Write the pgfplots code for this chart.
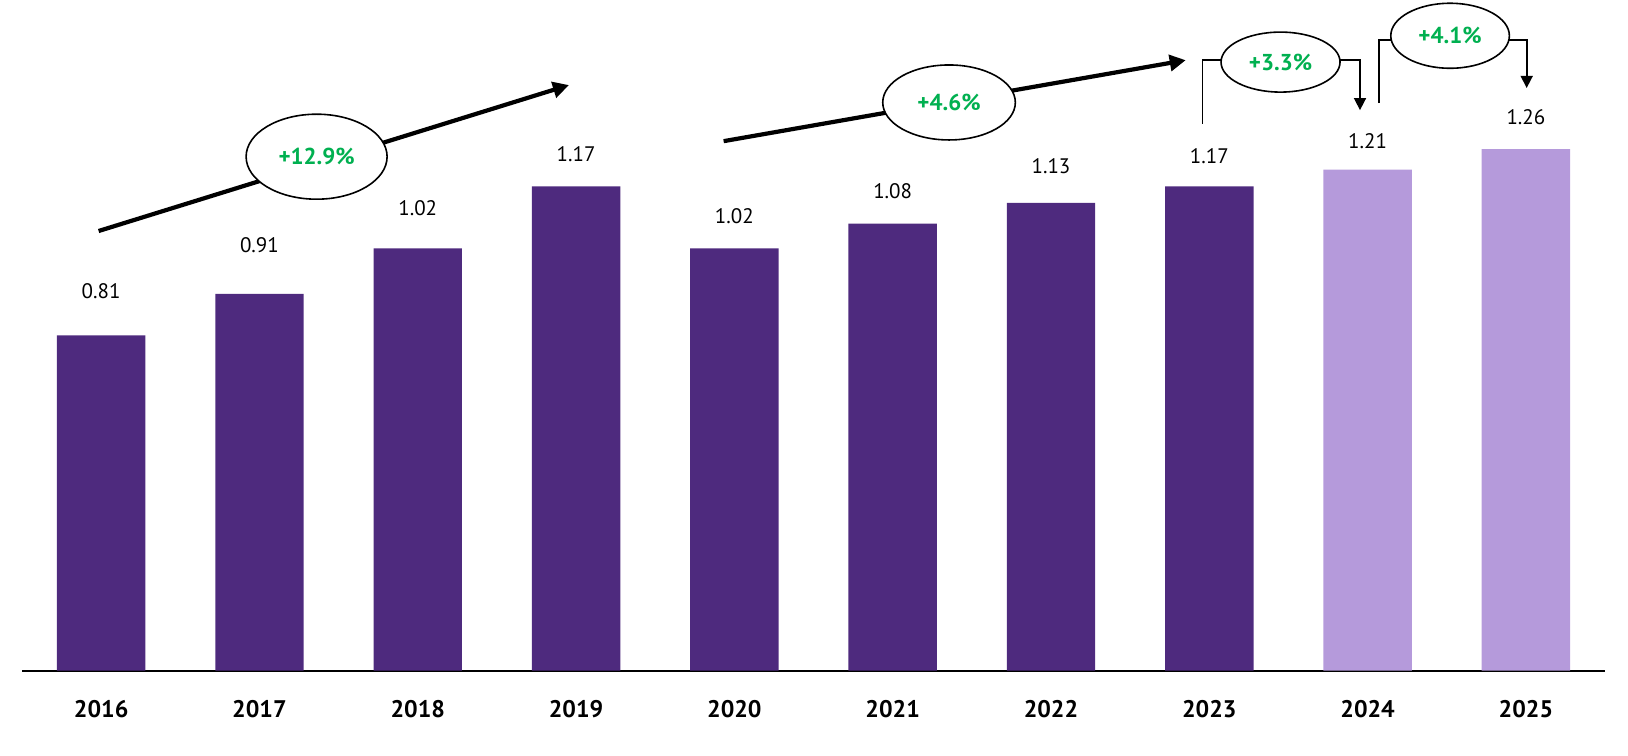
\documentclass[border=0pt]{standalone}
\usepackage{fontspec}
\setmainfont{PT Sans}
\usepackage{pgfplots}
\usepackage{pgfplotstable}
\pgfplotsset{compat=1.18}
\usetikzlibrary{arrows.meta,shapes.geometric}
\definecolor{darkpurple}{HTML}{4E2A7E}
\definecolor{lightpurple}{HTML}{B59ADB}
\definecolor{growthgreen}{HTML}{00B050}

\pgfplotstableread{
x y dy lab
0 0.81 22.3 0.81
1 0.91 24.4 0.91
2 1.02 20.2 1.02
3 1.17 16.1 1.17
4 1.02 16.1 1.02
5 1.08 16.1 1.08
6 1.13 18.2 1.13
7 1.17 15.0 1.17
}\actual
\pgfplotstableread{
x y dy lab
8 1.21 14.5 1.21
9 1.26 16.1 1.26
}\forecast

\begin{document}
\begin{tikzpicture}
\begin{axis}[
  x=79.15pt, y=207pt,
  xmin=-0.5, xmax=9.5, ymin=0, ymax=1.62,
  axis x line=bottom, axis y line=none,
  axis line style={-, line width=1.1pt, black},
  xtick={0,1,2,3,4,5,6,7,8,9},
  xticklabels={2016,2017,2018,2019,2020,2021,2022,2023,2024,2025},
  major tick length=0pt,
  xticklabel style={font=\bfseries\fontsize{12}{14}\selectfont, yshift=-11.5pt},
  ybar, bar width=44.2pt, bar shift=0pt,
  clip=false,
]
\addplot[fill=darkpurple, draw=none,
  nodes near coords, point meta=explicit symbolic,
  visualization depends on={\thisrow{dy}\as\dy},
  every node near coord/.append style={anchor=center, yshift=\dy, font=\fontsize{10.5}{12}\selectfont, text=black}]
  table[x=x, y=y, meta=lab] {\actual};
\addplot[fill=lightpurple, draw=none,
  nodes near coords, point meta=explicit symbolic,
  visualization depends on={\thisrow{dy}\as\dy},
  every node near coord/.append style={anchor=center, yshift=\dy, font=\fontsize{10.5}{12}\selectfont, text=black}]
  table[x=x, y=y, meta=lab] {\forecast};

% growth arrows
\draw[line width=2.1pt, -{Triangle[length=8pt,width=8pt]}] (axis cs:-0.016,1.062) -- (axis cs:2.955,1.4145);
\node[ellipse, draw, line width=0.8pt, fill=white, minimum width=70.5pt, minimum height=42.5pt, inner sep=1pt,
      font=\bfseries\fontsize{11.5}{13}\selectfont, text=growthgreen] at (axis cs:1.361,1.2415) {+12.9\%};

\draw[line width=2.1pt, -{Triangle[length=8pt,width=8pt]}] (axis cs:3.932,1.279) -- (axis cs:6.851,1.4746);
\node[ellipse, draw, line width=0.8pt, fill=white, minimum width=66.3pt, minimum height=37.5pt, inner sep=1pt,
      font=\bfseries\fontsize{11.5}{13}\selectfont, text=growthgreen] at (axis cs:5.356,1.3725) {+4.6\%};

\draw[line width=0.8pt, -{Triangle[length=6pt,width=6pt]}] (axis cs:6.958,1.3205) -- (axis cs:6.958,1.475) -- (axis cs:7.952,1.475) -- (axis cs:7.952,1.354);
\node[ellipse, draw, line width=0.8pt, fill=white, minimum width=59.5pt, minimum height=30pt, inner sep=1pt,
      font=\bfseries\fontsize{11.5}{13}\selectfont, text=growthgreen] at (axis cs:7.450,1.470) {+3.3\%};

\draw[line width=0.8pt, -{Triangle[length=6pt,width=6pt]}] (axis cs:8.072,1.371) -- (axis cs:8.072,1.5234) -- (axis cs:9.005,1.5234) -- (axis cs:9.005,1.4075);
\node[ellipse, draw, line width=0.8pt, fill=white, minimum width=59.3pt, minimum height=32.5pt, inner sep=1pt,
      font=\bfseries\fontsize{11.5}{13}\selectfont, text=growthgreen] at (axis cs:8.521,1.5336) {+4.1\%};

\coordinate (bbl) at (axis cs:-0.639,-0.206);
\coordinate (btr) at (axis cs:9.645,1.62);
\end{axis}
\pgfresetboundingbox
\useasboundingbox (bbl) rectangle (btr);
\end{tikzpicture}
\end{document}
